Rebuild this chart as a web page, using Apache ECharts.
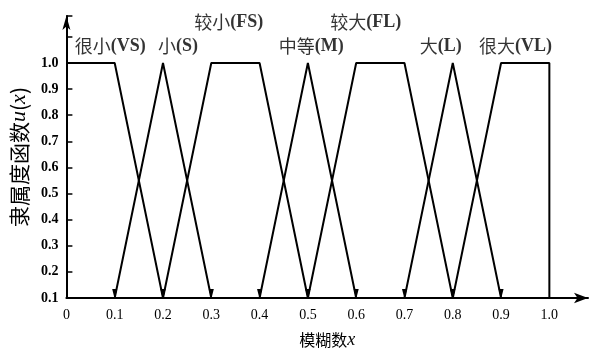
<!DOCTYPE html>
<html><head><meta charset="utf-8">
<script src="https://cdn.jsdelivr.net/npm/echarts@6/dist/echarts.min.js"></script>
<style>html,body{margin:0;padding:0;background:#fff}#c{width:593px;height:354px}</style>
</head><body><div id="c"></div>
<script>
// membership functions (x, membership)
const VS = [[0,1.0],[0.1,1.0],[0.2,0.1]];
const S  = [[0.1,0.1],[0.2,1.0],[0.3,0.1]];
const FS = [[0.2,0.1],[0.3,1.0],[0.4,1.0],[0.5,0.1]];
const M  = [[0.4,0.1],[0.5,1.0],[0.6,0.1]];
const FL = [[0.5,0.1],[0.6,1.0],[0.7,1.0],[0.8,0.1]];
const L  = [[0.7,0.1],[0.8,1.0],[0.9,0.1]];
const VL = [[0.8,0.1],[0.9,1.0],[1.0,1.0],[1.0,0.1]];
const seriesList = [VS, S, FS, M, FL, L, VL];
// labels and their anchor positions in data space
const labelNames = ['很小(VS)','小(S)','较小(FS)','中等(M)','较大(FL)','大(L)','很大(VL)'];
const labelX = [0.091, 0.231, 0.336, 0.507, 0.62, 0.775, 0.93];
const labelY = [1.064, 1.064, 1.157, 1.064, 1.157, 1.064, 1.064];
const xTicks = ['0','0.1','0.2','0.3','0.4','0.5','0.6','0.7','0.8','0.9','1.0'];
const yTicks = ['0.1','0.2','0.3','0.4','0.5','0.6','0.7','0.8','0.9','1.0'];

const FONT = '"Liberation Serif","Noto Sans CJK SC",serif';
const CJK = '"Noto Sans CJK SC",serif';
const chart = echarts.init(document.getElementById('c'), null, {renderer:'canvas'});
const series = seriesList.map(d => ({
  type:'line', data:d, silent:true,
  lineStyle:{color:'#000', width:2},
  symbol:(v)=> (v[1] <= 0.1001 && v[0] < 0.999) ? 'triangle' : 'none',
  symbolSize:[5,10], symbolRotate:180, symbolOffset:[0,-4],
  itemStyle:{color:'#000'}, z:3
}));
series.push({
  type:'scatter', silent:true, symbolSize:0,
  data: labelNames.map((n,i)=>({value:[labelX[i], labelY[i]], name:n})),
  label:{show:true, position:'inside', color:'#000',
    formatter:p=>{const k=p.name.indexOf('('); return '{c|'+p.name.slice(0,k)+'}{l|'+p.name.slice(k)+'}';},
    rich:{
      c:{fontFamily:CJK, fontSize:18, fontWeight:'normal', color:'#000'},
      l:{fontFamily:FONT, fontSize:18, fontWeight:'bold', color:'#000'}
    }}
});
chart.setOption({
  animation:false,
  grid:{left:64, right:5, top:16, bottom:49},
  xAxis:{type:'value', min:0, max:1.08, interval:0.1,
    name:'{a|模糊数}{i|x}', nameLocation:'middle', nameGap:33,
    nameTextStyle:{rich:{a:{fontFamily:CJK,fontSize:16,color:'#000'},i:{fontFamily:FONT,fontSize:18,fontStyle:'italic',color:'#000'}}},
    axisLine:{lineStyle:{color:'#000',width:2}, symbol:['none','arrow'], symbolSize:[8,14]},
    axisTick:{show:false}, splitLine:{show:false},
    axisLabel:{color:'#000', fontFamily:FONT, fontSize:14, margin:10,
      formatter:v=>{const i=Math.round(v*10); return (Math.abs(v*10-i)<1e-6 && i<=10) ? xTicks[i] : '';}}
  },
  yAxis:{type:'value', min:0.1, max:1.18, interval:0.1,
    name:'{a|隶属度函数}{i|u}{a|(}{i|x}{a|)}', nameLocation:'middle', nameGap:36,
    nameTextStyle:{rich:{a:{fontFamily:CJK,fontSize:21,color:'#000'},i:{fontFamily:FONT,fontSize:22,fontStyle:'italic',color:'#000'}}},
    axisLine:{lineStyle:{color:'#000',width:2}, symbol:['none','arrow'], symbolSize:[6,14]},
    axisTick:{show:true, inside:true, length:6, lineStyle:{color:'#000',width:1.5},
      interval:(i,v)=> Number(v) <= 1.0001},
    splitLine:{show:false},
    axisLabel:{color:'#000', fontFamily:FONT, fontSize:14, fontWeight:'bold', margin:8,
      formatter:v=>{const i=Math.round(v*10)-1; return (Math.abs(v*10-Math.round(v*10))<1e-6 && i>=0 && i<=9) ? yTicks[i] : '';}}
  },
  series:series
});
</script></body></html>
